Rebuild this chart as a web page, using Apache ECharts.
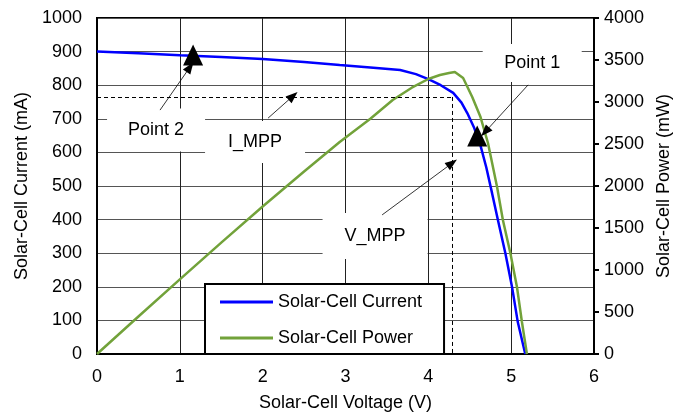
<!DOCTYPE html>
<html><head><meta charset="utf-8">
<script src="https://cdn.jsdelivr.net/npm/echarts@6/dist/echarts.min.js"></script>
<style>html,body{margin:0;padding:0;background:#fff}#c{width:677px;height:417px}</style>
</head><body><div id="c"></div>
<script>
// Data
var currentVoltage = [0,0.5,1,1.5,2,2.5,2.93,3.3,3.66,3.85,4.0,4.15,4.3,4.4,4.47,4.55,4.63,4.7,4.77,4.84,4.93,5.01,5.08,5.17];
var currentValues  = [900,895,889,884,878,869,860,853,845,833,818,800,777,748,717,675,620,555,478,399,300,200,95,0];
var powerVoltage = [0,0.5,1,1.5,2,2.5,2.93,3.3,3.57,3.8,4.0,4.14,4.25,4.32,4.42,4.53,4.63,4.72,4.83,4.90,4.99,5.07,5.13,5.19];
var powerValues  = [0,447,889,1326,1756,2172,2524,2800,3024,3170,3274,3321,3345,3357,3286,3060,2821,2512,1988,1595,1202,798,381,0];
var mppVoltage = 4.29, mppCurrent = 765;
// annotation labels: [text, V, mA]
var labelTexts = ['Point 2','I_MPP','V_MPP','Point 1'];
var labelCoords = [[0.713,667],[1.908,631],[3.357,351],[5.254,866]];
// arrows: [fromV, fromI, toV, toI]
var arrows = [[0.761,726,1.123,854],[2.065,702,2.367,768],[3.442,414,4.287,568],[5.205,801,4.686,661]];
// point markers (V, mA)
var markers = [[1.16,890],[4.59,649]];

var FONT = 'Liberation Sans, Arial, sans-serif';
var FS = 18;
var boxSizes = [[98,43],[100,42],[105,46],[99,38]];
var BLUE = '#0000FF', GREEN = '#72A23A';

var chart = echarts.init(document.getElementById('c'), null, {renderer:'canvas'});
var curData = currentVoltage.map(function(v,i){return [v,currentValues[i]];});
var powData = powerVoltage.map(function(v,i){return [v,powerValues[i]];});

var labelPoints = labelTexts.map(function(t,i){
  return {coord:labelCoords[i], symbol:'rect', symbolSize:boxSizes[i],
    itemStyle:{color:'#fff'},
    label:{show:true, position:'inside', formatter:t, color:'#000', fontSize:FS, fontFamily:FONT}};
});
var markerPoints = markers.map(function(m){
  return {coord:m, symbol:'triangle', symbolSize:[20,21], itemStyle:{color:'#000'}, label:{show:false}};
});
var arrowLines = arrows.map(function(a){
  return [{coord:[a[0],a[1]], symbol:'none'},{coord:[a[2],a[3]], symbol:'triangle'}];
});
var plain = function(v){return String(v);};

chart.setOption({
  animation:false,
  textStyle:{fontFamily:FONT},
  grid:{left:97,right:83,top:18,bottom:63,outerBoundsMode:'none',containLabel:false,
    show:true,borderColor:'#000',borderWidth:2,backgroundColor:'transparent'},
  legend:{
    data:[{name:'Solar-Cell Current',icon:'rect'},{name:'Solar-Cell Power',icon:'rect'}],
    orient:'vertical', left:205, top:284,
    backgroundColor:'#fff', borderColor:'#000', borderWidth:2,
    padding:[9,22,7,15], itemGap:18, itemWidth:53, itemHeight:3,
    textStyle:{fontSize:FS, color:'#000', fontFamily:FONT}
  },
  xAxis:{type:'value',min:0,max:6,interval:1,
    name:'Solar-Cell Voltage (V)',nameLocation:'middle',nameGap:40,
    nameTextStyle:{fontSize:FS,color:'#000',fontFamily:FONT},
    axisLine:{lineStyle:{color:'#000',width:2}},axisTick:{show:false},
    axisLabel:{fontSize:FS,color:'#000',margin:14,fontFamily:FONT,formatter:plain},
    splitLine:{show:true,lineStyle:{color:'#222',width:1}}},
  yAxis:[
    {type:'value',min:0,max:1000,interval:100,
     name:'Solar-Cell Current (mA)',nameLocation:'middle',nameGap:66,
     nameTextStyle:{fontSize:FS,color:'#000',fontFamily:FONT},
     axisLine:{show:true,lineStyle:{color:'#000',width:2}},axisTick:{show:false},
     axisLabel:{fontSize:FS,color:'#000',margin:15,fontFamily:FONT,formatter:plain},
     splitLine:{show:true,lineStyle:{color:'#555',width:1}}},
    {type:'value',min:0,max:4000,interval:500,position:'right',
     name:'Solar-Cell Power (mW)',nameLocation:'middle',nameGap:58,nameRotate:90,
     nameTextStyle:{fontSize:FS,color:'#000',fontFamily:FONT},
     axisLine:{show:true,lineStyle:{color:'#000',width:2}},
     axisTick:{show:true,length:5,lineStyle:{color:'#000',width:2}},
     axisLabel:{fontSize:FS,color:'#000',margin:10,fontFamily:FONT,formatter:plain},
     splitLine:{show:false}}
  ],
  series:[
    {name:'annot',type:'line',data:[],yAxisIndex:0,z:1,silent:true,
     markPoint:{silent:true,data:labelPoints,z:1},
     markLine:{silent:true,symbol:['none','none'],label:{show:false},
       lineStyle:{color:'#000',type:[4,3],width:1},
       data:[[{coord:[0,mppCurrent]},{coord:[mppVoltage,mppCurrent]}],
             [{coord:[mppVoltage,mppCurrent]},{coord:[mppVoltage,0]}]]}},
    {name:'Solar-Cell Current',type:'line',data:curData,yAxisIndex:0,symbol:'none',smooth:false,z:3,
     lineStyle:{color:BLUE,width:2.5},itemStyle:{color:BLUE}},
    {name:'Solar-Cell Power',type:'line',data:powData,yAxisIndex:1,symbol:'none',smooth:false,z:3,
     lineStyle:{color:GREEN,width:2.5},itemStyle:{color:GREEN}},
    {name:'arrows',type:'line',data:[],yAxisIndex:0,z:4,silent:true,
     markPoint:{silent:true,data:markerPoints},
     markLine:{silent:true,symbolSize:[9,12],label:{show:false},
       lineStyle:{color:'#000',type:'solid',width:0.8},
       data:arrowLines}}
  ]
});
</script></body></html>
